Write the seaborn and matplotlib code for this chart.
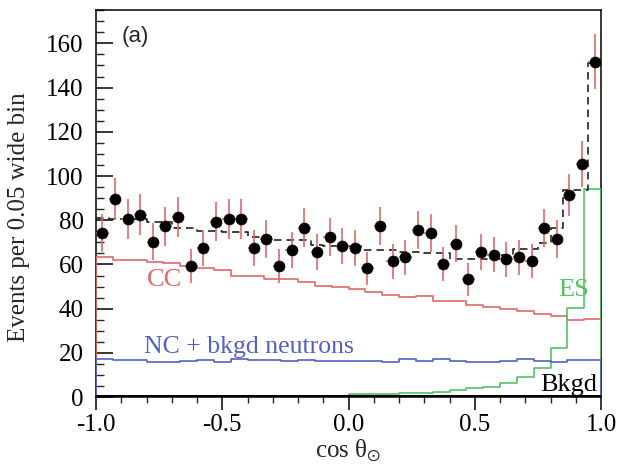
import numpy as np
import pandas as pd
import matplotlib
matplotlib.use("Agg")
import matplotlib.pyplot as plt
import seaborn as sns
from matplotlib.ticker import MultipleLocator

# data: 40 bins of 0.05 in cos(theta_sun)
data_counts = [74.1, 89.5, 80.6, 82.6, 70.3, 77.3, 81.4, 59.1, 67.4, 79.4,
               80.6, 80.6, 67.3, 71.5, 59.2, 66.5, 76.7, 65.5, 72.4, 68.3,
               67.6, 58.2, 77.4, 61.4, 63.2, 75.5, 74.4, 60.3, 69.4, 53.2,
               65.6, 64.4, 62.3, 63.2, 61.5, 76.5, 71.4, 91.5, 105.5, 151.8]
data_err = [8.6, 9.5, 9.0, 9.1, 8.4, 8.8, 9.0, 7.7, 8.2, 8.9,
            9.0, 9.0, 8.2, 8.5, 7.7, 8.2, 8.8, 8.1, 8.5, 8.3,
            8.2, 7.6, 8.8, 7.8, 8.0, 8.7, 8.6, 7.8, 8.3, 7.3,
            8.1, 8.0, 7.9, 8.0, 7.8, 8.7, 8.5, 9.6, 10.3, 12.3]
total_fit = [81.0, 80.4, 80.4, 80.4, 79.0, 79.0, 76.6, 76.6, 75.2, 75.2,
             74.7, 74.7, 72.6, 72.6, 71.0, 71.0, 71.0, 69.0, 68.3, 68.3,
             68.3, 66.4, 66.4, 66.4, 65.6, 65.6, 65.0, 65.0, 62.6, 62.6,
             62.6, 62.6, 64.1, 67.1, 67.1, 69.8, 76.6, 93.5, 93.5, 151.0]

# fitted components: 30 bins
cc = [63.5, 62.0, 62.0, 61.0, 60.5, 59.2, 58.2, 57.6, 55.0, 55.0,
      53.6, 53.6, 52.1, 50.1, 49.7, 49.1, 47.4, 46.4, 45.1, 45.6,
      43.6, 43.6, 41.8, 40.8, 40.0, 38.8, 37.7, 36.8, 34.7, 35.5]
nc = [17.3, 16.6, 16.6, 16.1, 15.7, 16.4, 16.8, 16.1, 17.2, 16.6,
      16.6, 16.2, 16.8, 16.2, 16.5, 16.5, 16.5, 16.0, 17.4, 16.5,
      17.4, 16.5, 15.8, 15.8, 16.5, 17.4, 16.5, 16.1, 16.8, 16.8]
es = [0.0, 0.0, 0.5, 0.0, 0.0, 0.0, 0.0, 0.0, 0.0, 0.0,
      0.0, 0.0, 0.0, 0.0, 0.0, 1.3, 1.3, 1.3, 1.8, 1.8,
      2.5, 3.1, 4.0, 4.7, 6.5, 8.9, 13.3, 22.1, 40.3, 94.1]
bkgd = [0.3, 0.3, 0.3, 0.3, 0.3, 0.3, 0.3, 0.3, 0.3, 0.3,
        0.3, 0.3, 0.3, 0.3, 0.3, 0.3, 0.3, 0.3, 0.3, 0.3,
        0.3, 0.3, 0.3, 0.3, 0.3, 0.3, 0.3, 0.3, 0.3, 0.3]

edges_fine = np.linspace(-1, 1, len(data_counts) + 1)
centers_fine = 0.5 * (edges_fine[:-1] + edges_fine[1:])
edges_coarse = np.linspace(-1, 1, len(cc) + 1)
centers_coarse = 0.5 * (edges_coarse[:-1] + edges_coarse[1:])

fine = pd.DataFrame({"cos": centers_fine, "counts": data_counts,
                     "err": data_err, "total": total_fit})
coarse = pd.DataFrame({"cos": centers_coarse, "cc": cc, "nc": nc,
                       "es": es, "bkgd": bkgd})

red = "#e06a66"
blue = "#5262c4"
green = "#52c466"

sns.set_theme(style="ticks")
plt.rcParams["font.family"] = ["Liberation Serif", "DejaVu Serif"]
plt.rcParams["mathtext.fontset"] = "custom"
plt.rcParams["mathtext.rm"] = "Liberation Serif"

fig = plt.figure(figsize=(6.17, 4.65), dpi=100)
ax = fig.add_axes([0.1556, 0.146, 0.8185, 0.832])

# components, drawn as closed step outlines
for col_name, col in [("cc", red), ("es", green), ("nc", blue)]:
    sns.histplot(data=coarse, x="cos", weights=col_name, bins=list(edges_coarse),
                 element="step", fill=True, facecolor="none", color=col,
                 linewidth=1.2, zorder=3, ax=ax)
sns.histplot(data=coarse, x="cos", weights="bkgd", bins=list(edges_coarse),
             element="step", fill=False, color="black", linewidth=2.2,
             zorder=3, ax=ax)

# total fit
sns.histplot(data=fine, x="cos", weights="total", bins=list(edges_fine),
             element="step", fill=False, color="#222222", linewidth=1.2,
             linestyle=(0, (4.5, 3)), zorder=4, ax=ax)

# data points
ax.errorbar(fine["cos"], fine["counts"], yerr=fine["err"], xerr=0.025, fmt="none",
            ecolor=red, elinewidth=1.2, zorder=5)
sns.scatterplot(data=fine, x="cos", y="counts", color="black", s=62,
                edgecolor="black", linewidth=0.5, zorder=6, ax=ax)

ax.set_xlim(-1, 1)
ax.set_ylim(0, 175)
ax.xaxis.set_minor_locator(MultipleLocator(0.1))
ax.yaxis.set_major_locator(MultipleLocator(20))
ax.yaxis.set_minor_locator(MultipleLocator(5))
ax.set_xticks([-1.0, -0.5, 0.0, 0.5, 1.0])
ax.set_xticklabels(["-1.0", "-0.5", "0.0", "0.5", "1.0"])
ax.tick_params(axis="x", which="major", direction="out", length=9, width=1.1,
               labelsize=18, pad=3, colors="black")
ax.tick_params(axis="x", which="minor", direction="out", length=4, width=1.0)
ax.tick_params(axis="y", which="major", direction="in", length=12, width=1.1,
               labelsize=18, pad=9, colors="black")
ax.tick_params(axis="y", which="minor", direction="in", length=6, width=1.0)
for sp in ax.spines.values():
    sp.set_visible(True)
    sp.set_color("black")
    sp.set_linewidth(1.1)

ax.set_xlabel(r"cos $\mathregular{\theta_{\odot}}$", fontsize=18, labelpad=1)
ax.set_ylabel("Events per 0.05 wide bin", fontsize=18)
ax.yaxis.set_label_coords(-0.13, 0.465)

ax.text(-0.8, 53, "CC", color=red, fontsize=19, va="center", ha="left")
ax.text(-0.81, 22.5, "NC + bkgd neutrons", color=blue, fontsize=18.5, va="center", ha="left")
ax.text(0.83, 48.5, "ES", color=green, fontsize=19, va="center", ha="left")
ax.text(0.985, 5.5, "Bkgd", color="black", fontsize=19, va="center", ha="right")
ax.text(-0.9, 163, "(a)", family="Liberation Sans", fontsize=16, va="center", ha="left")

fig.savefig("out.png", dpi=100)
